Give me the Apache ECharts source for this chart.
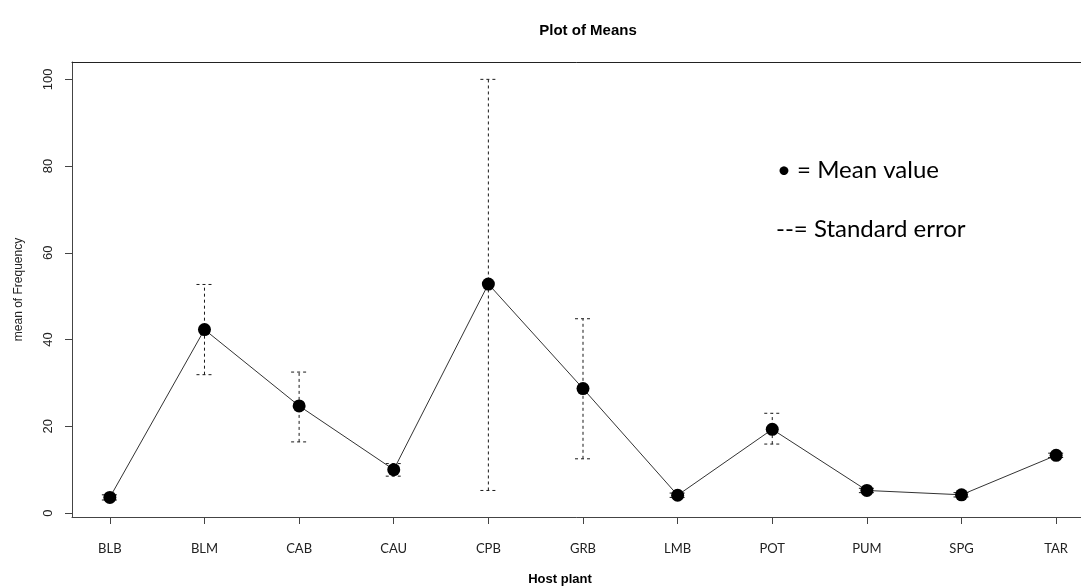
<!DOCTYPE html>
<html>
<head>
<meta charset="utf-8">
<script src="https://cdn.jsdelivr.net/npm/echarts@6/dist/echarts.min.js"></script>
<style>
  html, body { margin: 0; padding: 0; background: #fff; }
  #chart { width: 1081px; height: 587px; }
</style>
</head>
<body>
<div id="chart"></div>
<script>
// Host plants on the x axis
const hosts = ['BLB', 'BLM', 'CAB', 'CAU', 'CPB', 'GRB', 'LMB', 'POT', 'PUM', 'SPG', 'TAR'];
// Mean frequency per host plant
const meanFreq = [3.6, 42.3, 24.7, 10.0, 52.8, 28.7, 4.1, 19.3, 5.2, 4.2, 13.3];
// Lower and upper ends of the standard-error bars
const seLower = [3.0, 31.9, 16.4, 8.5, 5.2, 12.5, 3.6, 15.9, 4.7, 3.7, 12.8];
const seUpper = [4.2, 52.7, 32.5, 11.4, 100.0, 44.8, 4.6, 23.0, 5.7, 4.7, 13.8];
// Tick values on the y axis
const yTicks = [0, 20, 40, 60, 80, 100];

const xIdx = hosts.map((h, i) => i);
const meanData = hosts.map((h, i) => [i, meanFreq[i]]);
const errData = hosts.map((h, i) => [i, seLower[i], seUpper[i]]);

const chart = echarts.init(document.getElementById('chart'), null, { renderer: 'canvas' });

const dashStyle = { stroke: '#1a1a1a', lineWidth: 1, lineDash: [3, 3] };

chart.setOption({
  animation: false,
  backgroundColor: '#ffffff',
  title: {
    text: 'Plot of Means',
    left: 583,
    top: 18,
    textAlign: 'center',
    textStyle: {
      fontFamily: '"Liberation Sans Narrow", "Liberation Sans", Arial, sans-serif',
      fontWeight: 'bold',
      fontSize: 15,
      color: '#000'
    }
  },
  grid: {
    left: 72,
    top: 62,
    width: 1022,
    height: 455,
    outerBoundsMode: 'none',
    containLabel: false,
    show: false
  },
  xAxis: [
    {
      type: 'value',
      min: -0.4,
      max: 10.4,
      name: 'Host plant',
      nameLocation: 'middle',
      nameGap: 56,
      nameTextStyle: {
        fontFamily: '"Liberation Sans Narrow", "Liberation Sans", Arial, sans-serif',
        fontWeight: 'bold',
        fontSize: 13,
        color: '#000',
        padding: [0, 46, 0, 0]
      },
      axisLine: { show: true, onZero: false, lineStyle: { color: '#444', width: 1 } },
      axisTick: { show: true, length: 7, lineStyle: { color: '#444' }, customValues: xIdx },
      axisLabel: {
        customValues: xIdx,
        formatter: v => hosts[Math.round(v)],
        margin: 25,
        fontFamily: 'Lato, "Open Sans", sans-serif',
        fontSize: 13,
        color: '#222'
      },
      splitLine: { show: false }
    },
    {
      // top edge of the plot box
      type: 'value',
      position: 'top',
      min: -0.4,
      max: 10.4,
      axisLine: { show: true, onZero: false, lineStyle: { color: '#222', width: 1 } },
      axisTick: { show: false },
      axisLabel: { show: false },
      splitLine: { show: false }
    }
  ],
  yAxis: {
    type: 'value',
    min: -0.92,
    max: 104,
    name: 'mean of Frequency',
    nameLocation: 'middle',
    nameGap: 47,
    nameTextStyle: {
      fontFamily: '"Liberation Sans", Arial, sans-serif',
      fontSize: 12,
      color: '#222'
    },
    axisLine: { show: true, onZero: false, lineStyle: { color: '#444', width: 1 } },
    axisTick: { show: true, length: 7, lineStyle: { color: '#444' }, customValues: yTicks },
    axisLabel: {
      customValues: yTicks,
      rotate: 90,
      margin: 17,
      fontFamily: '"Liberation Sans", Arial, sans-serif',
      fontSize: 13,
      color: '#222'
    },
    splitLine: { show: false }
  },
  graphic: [
    {
      type: 'text',
      left: 777,
      top: 158,
      style: { text: '\u2022 = Mean value', font: '24px Lato, "Open Sans", sans-serif', fill: '#000' }
    },
    {
      type: 'text',
      left: 776,
      top: 217,
      style: { text: '--= Standard error', font: '24px Lato, "Open Sans", sans-serif', fill: '#000' }
    }
  ],
  series: [
    {
      name: 'Standard error',
      type: 'custom',
      z: 1,
      data: errData,
      encode: { x: 0, y: [1, 2] },
      renderItem: function (params, api) {
        const x = api.value(0);
        const lo = api.coord([x, api.value(1)]);
        const hi = api.coord([x, api.value(2)]);
        const half = 8;
        return {
          type: 'group',
          children: [
            { type: 'line', shape: { x1: lo[0], y1: lo[1], x2: hi[0], y2: hi[1] }, style: dashStyle },
            { type: 'line', shape: { x1: hi[0] - half, y1: hi[1], x2: hi[0] + half, y2: hi[1] }, style: dashStyle },
            { type: 'line', shape: { x1: lo[0] - half, y1: lo[1], x2: lo[0] + half, y2: lo[1] }, style: dashStyle }
          ]
        };
      }
    },
    {
      name: 'Mean value',
      type: 'line',
      z: 2,
      data: meanData,
      symbol: 'circle',
      symbolSize: 13,
      showAllSymbol: true,
      lineStyle: { color: '#333', width: 1 },
      itemStyle: { color: '#000', borderWidth: 0 }
    }
  ]
});
</script>
</body>
</html>
